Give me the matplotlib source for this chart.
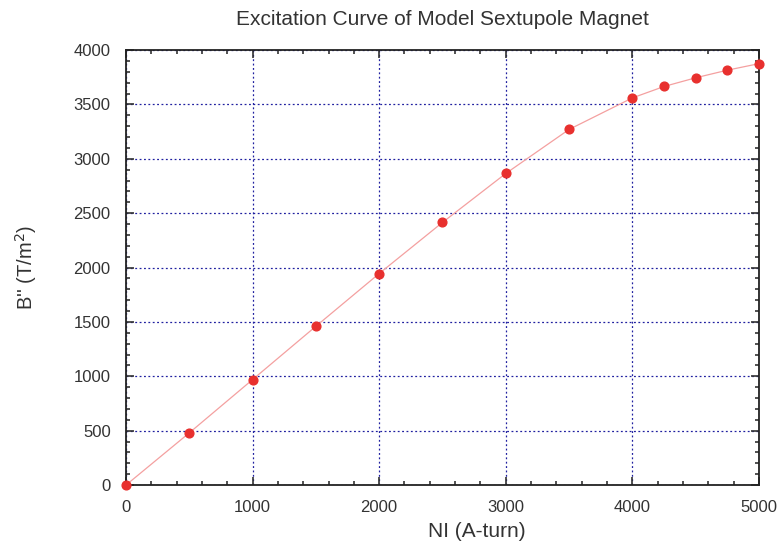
import numpy as np
import matplotlib
matplotlib.use('Agg')
import matplotlib.pyplot as plt
from matplotlib.ticker import MultipleLocator

plt.rcParams['font.family'] = ['Liberation Sans', 'DejaVu Sans']

ni = [0, 500, 1000, 1500, 2000, 2500, 3000, 3500, 4000, 4250, 4500, 4750, 5000]
bpp = [0, 480, 970, 1460, 1945, 2415, 2865, 3270, 3560, 3665, 3745, 3815, 3875]

fig = plt.figure(figsize=(7.79, 5.5), dpi=100)
ax = fig.add_axes([0.1617, 0.118, 0.8126, 0.791])

ax.plot(ni, bpp, color='#f4a0a0', lw=0.9, zorder=2)
ax.plot(ni, bpp, 'o', color='#e8302e', ms=6.3, zorder=3, clip_on=False)

ax.set_xlim(0, 5000)
ax.set_ylim(0, 4000)
ax.xaxis.set_major_locator(MultipleLocator(1000))
ax.xaxis.set_minor_locator(MultipleLocator(200))
ax.yaxis.set_major_locator(MultipleLocator(500))
ax.yaxis.set_minor_locator(MultipleLocator(100))
ax.tick_params(which='both', direction='in', top=True, right=True, labelsize=12,
               colors='#333333', width=1.2)
ax.tick_params(which='major', length=6, pad=11)
ax.tick_params(which='minor', length=3)
for s in ax.spines.values():
    s.set_linewidth(1.3)
    s.set_color('#222222')

ax.grid(True, which='major', color='#2020a0', linestyle=(0, (1.5, 2)), lw=0.9)

ax.set_xlabel('NI (A-turn)', fontsize=15, color='#333333')
ax.xaxis.set_label_coords(0.555, -0.085)
ax.set_ylabel("B'' (T/m$^2$)", fontsize=14.5, color='#333333')
ax.yaxis.set_label_coords(-0.137, 0.5)
ax.set_title('Excitation Curve of Model Sextupole Magnet', fontsize=15,
             color='#333333', pad=18)

fig.savefig('out.png', dpi=100)
